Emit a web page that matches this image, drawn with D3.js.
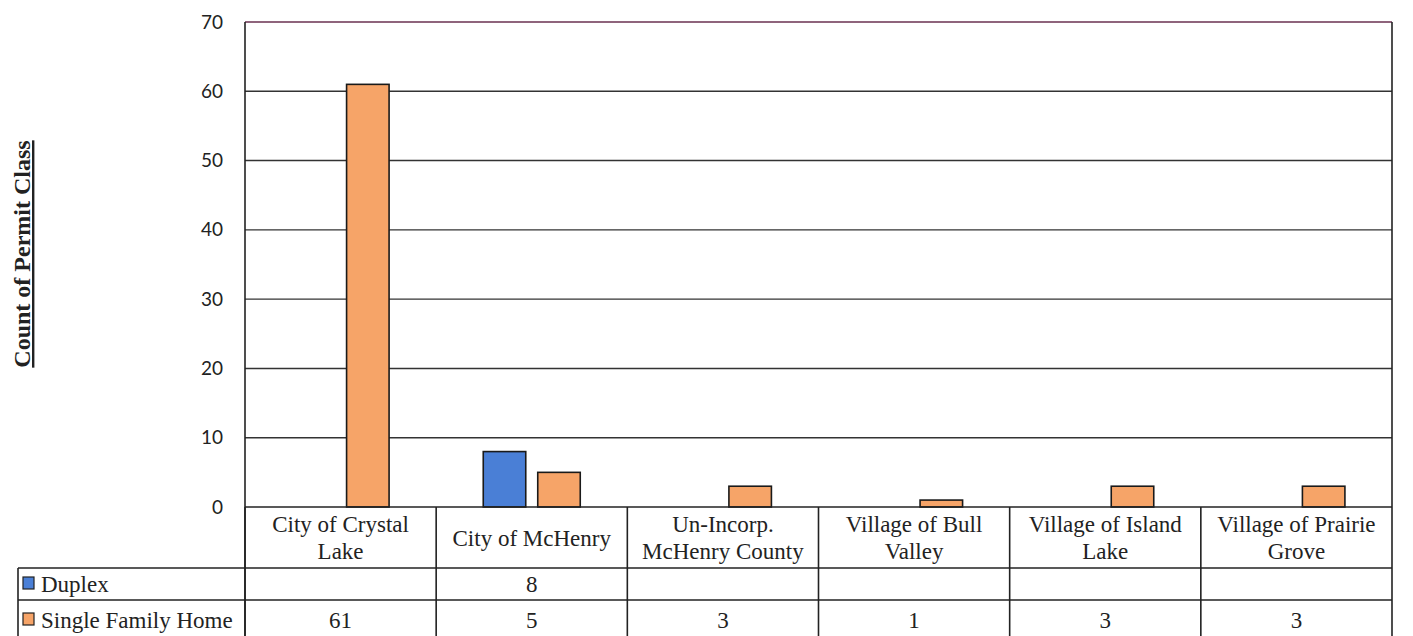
<!DOCTYPE html>
<html><head><meta charset="utf-8">
<script src="https://cdn.jsdelivr.net/npm/d3@7"></script>
<style>body{margin:0;background:#fff;}svg{display:block;}</style>
</head><body>
<svg id="c" width="1413" height="636"></svg>
<script>
const categories = [["City of Crystal","Lake"],["City of McHenry"],["Un-Incorp.","McHenry County"],["Village of Bull","Valley"],["Village of Island","Lake"],["Village of Prairie","Grove"]];
const seriesNames = ["Duplex","Single Family Home"];
const duplex = [null, 8, null, null, null, null];
const singleFamily = [61, 5, 3, 1, 3, 3];
const yTicks = [0,10,20,30,40,50,60,70];
const colors = ["#4a7fd6","#f6a468"];

const svg = d3.select("#c");
const L = 245, R = 1392, T = 22, B = 507;
const keys = categories.map((c,i)=>i);
const x = d3.scaleBand().domain(keys).range([L,R]);
const y = d3.scaleLinear().domain([0,70]).range([B,T]);
const bw = x.bandwidth();
const inner = d3.scaleBand().domain([0,1]).range([bw/2-48.5,bw/2+48.5]).paddingInner(0.22).paddingOuter(0);

// gridlines
svg.append("g").selectAll("line").data(yTicks.filter(d=>d>0)).join("line")
  .attr("x1",L).attr("x2",R).attr("y1",d=>y(d)).attr("y2",d=>y(d))
  .attr("stroke",d=>d===70?"#6a3050":"#333").attr("stroke-width",1.4);

// y axis
const yAxis = d3.axisLeft(y).tickValues(yTicks).tickSize(0).tickPadding(22);
const ga = svg.append("g").attr("transform",`translate(${L},0)`).call(yAxis);
ga.select(".domain").remove();
ga.selectAll("text").attr("font-family","Lato, 'Open Sans', sans-serif").attr("font-size",19).attr("fill","#222");

// bars
const series = [duplex, singleFamily];
series.forEach((vals,s)=>{
  svg.append("g").selectAll("rect").data(vals.map((v,i)=>({v,i})).filter(d=>d.v!=null)).join("rect")
    .attr("x",d=>x(d.i)+inner(s)).attr("width",inner.bandwidth())
    .attr("y",d=>y(d.v)).attr("height",d=>B-y(d.v))
    .attr("fill",colors[s]).attr("stroke","#1a1a1a").attr("stroke-width",1.6);
});

// table
const serif = "'Liberation Serif','Times New Roman',serif";
const tl = svg.append("g").attr("stroke","#222").attr("stroke-width",1.6);
tl.append("line").attr("x1",L).attr("x2",R).attr("y1",B).attr("y2",B);
tl.append("line").attr("x1",18).attr("x2",R).attr("y1",568).attr("y2",568);
tl.append("line").attr("x1",18).attr("x2",R).attr("y1",600).attr("y2",600);
keys.forEach(i=>{ tl.append("line").attr("x1",x(i)).attr("x2",x(i)).attr("y1",B).attr("y2",636); });
tl.append("line").attr("x1",L).attr("x2",L).attr("y1",T).attr("y2",636);
tl.append("line").attr("x1",R).attr("x2",R).attr("y1",T).attr("y2",636);
tl.append("line").attr("x1",18).attr("x2",18).attr("y1",568).attr("y2",636);

// category labels
const fs = 23;
const cl = svg.append("g").attr("font-family",serif).attr("font-size",fs).attr("fill","#222").attr("text-anchor","middle");
categories.forEach((c,i)=>{
  const cx = x(i)+bw/2;
  const t = cl.append("text").attr("x",cx);
  if(c.length===1){ t.attr("y",546).text(c[0]); }
  else { t.append("tspan").attr("x",cx).attr("y",532).text(c[0]); t.append("tspan").attr("x",cx).attr("y",559).text(c[1]); }
});

// series rows
const rowMid = [592, 628];
series.forEach((vals,s)=>{
  svg.append("rect").attr("x",23).attr("y",rowMid[s]-15).attr("width",11).attr("height",12)
    .attr("fill",colors[s]).attr("stroke","#222").attr("stroke-width",1.2);
  svg.append("text").attr("x",41).attr("y",rowMid[s]).attr("font-family",serif).attr("font-size",fs).attr("fill","#222").text(seriesNames[s]);
  vals.forEach((v,i)=>{ if(v!=null) svg.append("text").attr("x",x(i)+bw/2).attr("y",rowMid[s]).attr("text-anchor","middle")
    .attr("font-family",serif).attr("font-size",fs).attr("fill","#222").text(v); });
});

// y label
svg.append("text").attr("transform","translate(30,254) rotate(-90)").attr("text-anchor","middle")
  .attr("font-family",serif).attr("font-size",24).attr("font-weight","bold").attr("fill","#222").attr("text-decoration","underline").text("Count of Permit Class");
</script>
</body></html>
